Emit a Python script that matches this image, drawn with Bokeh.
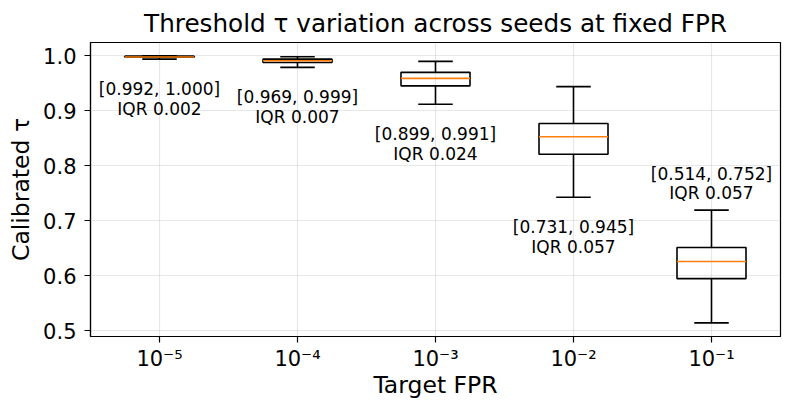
from bokeh.plotting import figure
from bokeh.models import Range1d, FixedTicker, ColumnDataSource, PrintfTickFormatter
from bokeh.embed import file_html
from bokeh.resources import INLINE
from bokeh.core.properties import value

# ---- data ----
tick_labels = ["10⁻⁵", "10⁻⁴", "10⁻³", "10⁻²", "10⁻¹"]
whisker_lo = [0.994, 0.979, 0.912, 0.743, 0.5145]
q1 = [0.9975, 0.988, 0.9455, 0.821, 0.595]
median = [0.998, 0.991, 0.959, 0.853, 0.626]
q3 = [0.9995, 0.994, 0.970, 0.877, 0.6515]
whisker_hi = [1.000, 0.9985, 0.990, 0.944, 0.7195]
range_min = [0.992, 0.969, 0.899, 0.731, 0.514]
range_max = [1.000, 0.999, 0.991, 0.945, 0.752]
iqr = [0.002, 0.007, 0.024, 0.057, 0.057]
y_ticks = [0.5, 0.6, 0.7, 0.8, 0.9, 1.0]

FONT = "DejaVu Sans"
pos = [i + 1 for i in range(len(tick_labels))]
ymin, ymax = 0.4897, 1.0243
frame_h = 294
ppu = frame_h / (ymax - ymin)

p = figure(frame_width=690, frame_height=frame_h, output_backend="svg", toolbar_location=None,
           x_range=Range1d(0.5, len(pos) + 0.5), y_range=Range1d(ymin, ymax),
           min_border_left=90, min_border_right=8, min_border_top=42, min_border_bottom=68)

p.title.text = "Threshold τ variation across seeds at fixed FPR"
p.title.align = "center"
p.title.text_font = FONT
p.title.text_font_size = "24.7px"
p.title.text_font_style = "normal"
p.title.text_color = "black"
p.title.standoff = 10

p.outline_line_color = "black"
p.outline_line_width = 1.2
p.outline_line_alpha = 1.0
p.background_fill_color = "white"
p.border_fill_color = "white"

# axes
p.xaxis.ticker = FixedTicker(ticks=pos)
p.xaxis.major_label_overrides = {k: v for k, v in zip(pos, tick_labels)}
p.yaxis.ticker = FixedTicker(ticks=y_ticks)
p.yaxis.formatter = PrintfTickFormatter(format="%.1f")
for ax in (p.xaxis[0], p.yaxis[0]):
    ax.axis_line_color = "black"
    ax.axis_line_width = 1.2
    ax.major_tick_line_color = "black"
    ax.major_tick_line_width = 1.2
    ax.major_tick_out = 6
    ax.major_tick_in = 0
    ax.minor_tick_line_color = None
    ax.major_label_text_font = FONT
    ax.major_label_text_font_size = "21px"
    ax.major_label_text_color = "black"
    ax.axis_label_text_font = FONT
    ax.axis_label_text_font_size = "23.5px"
    ax.axis_label_text_font_style = "normal"
    ax.axis_label_text_color = "black"
p.xaxis.axis_label = "Target FPR"
p.yaxis.axis_label = "Calibrated τ"
p.xaxis.major_label_standoff = 4
p.xaxis.axis_label_standoff = -3
p.yaxis.major_label_standoff = 8
p.yaxis.axis_label_standoff = 5

p.xgrid.ticker = FixedTicker(ticks=pos)
p.ygrid.ticker = FixedTicker(ticks=y_ticks)
for g in (p.xgrid[0], p.ygrid[0]):
    g.grid_line_color = "#b0b0b0"
    g.grid_line_alpha = 0.3
    g.grid_line_width = 1.2

# boxes
src = ColumnDataSource(dict(
    x=pos, lo=whisker_lo, q1=q1, med=median, q3=q3, hi=whisker_hi,
    cap0=[x - 0.125 for x in pos], cap1=[x + 0.125 for x in pos],
    m0=[x - 0.25 for x in pos], m1=[x + 0.25 for x in pos],
))
LW = 1.6
p.vbar(x="x", width=0.5, bottom="q1", top="q3", source=src,
       fill_color=None, line_color="black", line_width=LW)
p.segment(x0="x", y0="q1", x1="x", y1="lo", source=src, line_color="black", line_width=LW)
p.segment(x0="x", y0="q3", x1="x", y1="hi", source=src, line_color="black", line_width=LW)
p.segment(x0="cap0", y0="lo", x1="cap1", y1="lo", source=src, line_color="black", line_width=LW)
p.segment(x0="cap0", y0="hi", x1="cap1", y1="hi", source=src, line_color="black", line_width=LW)
p.segment(x0="m0", y0="med", x1="m1", y1="med", source=src, line_color="#ff7f0e", line_width=LW)

# annotations: below the lower whisker, or above the upper one if no room
l1, l2, ly1, ly2 = [], [], [], []
for lo, hi, mn, mx, r in zip(whisker_lo, whisker_hi, range_min, range_max, iqr):
    l1.append(f"[{mn:.3f}, {mx:.3f}]")
    l2.append(f"IQR {r:.3f}")
    if lo - 60 / ppu > ymin:
        ly1.append(lo - 30 / ppu)
        ly2.append(lo - 50 / ppu)
    else:
        ly1.append(hi + 36 / ppu)
        ly2.append(hi + 17 / ppu)
tsrc = ColumnDataSource(dict(x=pos + pos, y=ly1 + ly2, t=l1 + l2))
p.text(x="x", y="y", text="t", source=tsrc, text_align="center", text_baseline="middle",
       text_font=value(FONT), text_font_size="17px", text_color="black")

open("out.html", "w").write(file_html(p, INLINE))
